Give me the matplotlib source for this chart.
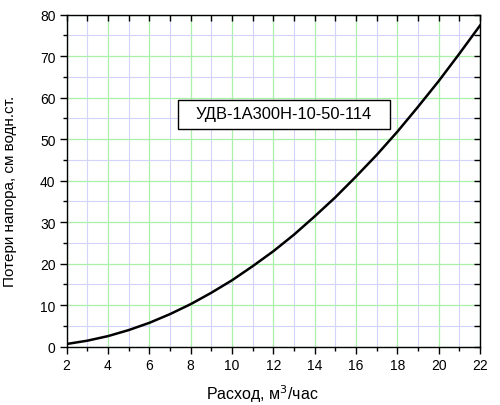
import matplotlib
matplotlib.use("Agg")
import matplotlib.pyplot as plt
from matplotlib.ticker import MultipleLocator, NullFormatter
from matplotlib.patches import Rectangle

plt.rcParams['font.family'] = ['Liberation Sans', 'DejaVu Sans']

flow = [2, 3, 4, 5, 6, 7, 8, 9, 10, 11, 12, 13, 14, 15, 16, 17, 18, 19, 20, 21, 22]
loss = [0.65, 1.45, 2.55, 4.0, 5.75, 7.85, 10.25, 13.0, 16.0, 19.4, 23.0,
        27.0, 31.4, 36.0, 41.0, 46.2, 51.8, 57.8, 64.0, 70.6, 77.4]
label_text = "УДВ-1А300Н-10-50-114"
xlabel = "Расход, м$^3$/час"
ylabel = "Потери напора, см водн.ст."

fig = plt.figure(figsize=(5.0, 4.06), dpi=100)
pos = [0.1333, 0.1436, 0.8267, 0.8177]
ax = fig.add_axes(pos)

ax.set_xlim(2, 22)
ax.set_ylim(0, 80)
ax.xaxis.set_major_locator(MultipleLocator(2))
ax.xaxis.set_minor_locator(MultipleLocator(1))
ax.yaxis.set_major_locator(MultipleLocator(10))
ax.yaxis.set_minor_locator(MultipleLocator(5))

ax.grid(which='minor', color='#d4d4fa', linewidth=0.8, zorder=0)
ax.grid(which='major', color='#aaf0aa', linewidth=0.9, zorder=0)
ax.set_axisbelow(True)

ax.plot(flow, loss, color='black', linewidth=1.8, zorder=3)

ax.tick_params(which='major', direction='out', length=5, width=1, labelsize=10,
               top=False, right=False, pad=3)
ax.tick_params(which='minor', direction='out', length=3, width=1,
               top=False, right=False)

# inward ticks on top and right spines via an overlay axes
ov = fig.add_axes(pos, frameon=False)
ov.set_xlim(2, 22)
ov.set_ylim(0, 80)
ov.xaxis.set_major_locator(MultipleLocator(1))
ov.yaxis.set_major_locator(MultipleLocator(5))
ov.xaxis.tick_top()
ov.yaxis.tick_right()
ov.xaxis.set_major_formatter(NullFormatter())
ov.yaxis.set_major_formatter(NullFormatter())
ov.tick_params(which='major', direction='in', length=4, width=1)
ov.patch.set_visible(False)

for sp in ax.spines.values():
    sp.set_linewidth(1.0)

ax.set_xlabel(xlabel, fontsize=11.5)
ax.set_ylabel(ylabel, fontsize=11)
ax.xaxis.set_label_coords(0.474, -0.106)
ax.yaxis.set_label_coords(-0.120, 0.472)

ax.add_patch(Rectangle((0.269, 0.656), 0.514, 0.087, transform=ax.transAxes,
                       facecolor='white', edgecolor='black', linewidth=1.0,
                       zorder=5))
ax.text(0.526, 0.701, label_text, transform=ax.transAxes, fontsize=11.9,
        ha='center', va='center', zorder=6)

fig.savefig("out.png", dpi=100)
